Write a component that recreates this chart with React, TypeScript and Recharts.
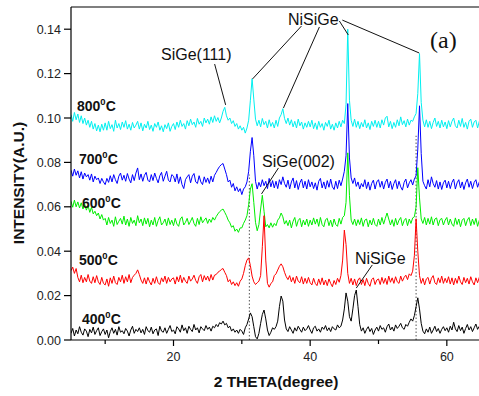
import { LineChart, Line, XAxis, YAxis, ReferenceLine } from "recharts";

// 2θ sampling grid (degrees)
const THETA_START = 5;
const THETA_STEP = 0.25;

// Intensities, in units of 1e-4 A.U., one per grid step (5° .. 65°)
const c800 = [
  1015, 985, 1025, 992, 1018, 980, 1010, 975, 1000, 968, 990, 958, 985, 950, 975, 942, 968, 938, 972, 945,
  978, 945, 985, 952, 970, 940, 990, 955, 975, 948, 982, 958, 988, 950, 972, 945, 980, 955, 968, 985,
  950, 978, 942, 972, 955, 985, 948, 968, 940, 975, 958, 982, 945, 965, 938, 970, 952, 978, 940, 962,
  975, 948, 982, 958, 990, 962, 975, 950, 988, 965, 995, 970, 982, 958, 998, 972, 985, 962, 1000, 978,
  995, 972, 1005, 980, 1010, 985, 1002, 978, 1000, 1030, 1048, 1010, 990, 1000, 975, 988, 962, 975, 950, 965,
  945, 958, 932, 955, 990, 1080, 1177, 1085, 995, 965, 990, 960, 998, 970, 985, 955, 992, 962, 980, 955,
  990, 962, 1000, 1015, 1042, 998, 975, 1000, 968, 992, 960, 985, 955, 995, 965, 982, 950, 978, 958, 985,
  960, 990, 952, 978, 948, 985, 958, 975, 945, 980, 962, 990, 950, 972, 945, 978, 955, 985, 960, 990,
  975, 1060, 1400, 1080, 990, 962, 995, 958, 985, 952, 980, 960, 992, 955, 978, 948, 985, 962, 990, 958,
  985, 955, 992, 968, 1000, 1008, 960, 985, 952, 980, 958, 992, 965, 1005, 970, 988, 960, 995, 968, 990,
  985, 1005, 1020, 1110, 1290, 1070, 990, 960, 992, 958, 985, 952, 980, 1000, 962, 985, 955, 990, 960, 982,
  952, 988, 960, 985, 1000, 965, 955, 990, 962, 998, 958, 980, 950, 985, 995, 958, 982, 990, 955, 985,
  970,
];

const c700 = [
  765, 738, 770, 742, 762, 730, 758, 725, 752, 735, 745, 720, 748, 712, 738, 722, 730, 705, 728, 712,
  700, 728, 710, 740, 712, 745, 722, 705, 738, 752, 720, 742, 715, 750, 725, 708, 745, 718, 752, 775,
  722, 748, 715, 742, 755, 720, 712, 745, 718, 752, 728, 708, 740, 755, 715, 738, 760, 720, 712, 745,
  738, 712, 748, 705, 735, 700, 682, 722, 735, 745, 708, 738, 750, 712, 705, 740, 712, 700, 735, 710,
  730, 705, 738, 712, 742, 755, 770, 782, 790, 795, 770, 745, 712, 720, 688, 705, 672, 690, 668, 682,
  655, 680, 690, 712, 760, 850, 912, 830, 715, 680, 710, 690, 722, 695, 715, 682, 728, 690, 718, 685,
  715, 682, 722, 700, 735, 705, 688, 720, 680, 712, 730, 685, 718, 678, 708, 725, 685, 715, 680, 722,
  690, 712, 682, 708, 675, 715, 728, 685, 712, 680, 718, 688, 725, 690, 678, 715, 682, 720, 695, 725,
  760, 830, 1065, 820, 730, 705, 730, 692, 712, 680, 705, 690, 722, 682, 712, 675, 705, 720, 680, 712,
  722, 688, 715, 680, 710, 725, 685, 715, 678, 705, 722, 682, 715, 690, 675, 710, 725, 685, 708, 722,
  698, 725, 740, 860, 1055, 840, 715, 695, 680, 722, 690, 735, 705, 688, 718, 680, 712, 678, 708, 720,
  685, 715, 682, 710, 725, 680, 708, 722, 685, 712, 678, 708, 725, 688, 715, 682, 710, 722, 688, 712,
  700,
];

const c600 = [
  625, 598, 630, 600, 622, 595, 618, 590, 612, 585, 605, 575, 598, 568, 580, 560, 572, 545, 565, 540,
  548, 518, 552, 525, 540, 512, 555, 520, 535, 548, 522, 558, 518, 545, 512, 552, 525, 540, 515, 560,
  528, 545, 515, 550, 522, 548, 510, 540, 518, 552, 512, 538, 555, 518, 528, 545, 515, 550, 520, 540,
  515, 548, 522, 512, 545, 555, 518, 530, 548, 520, 535, 552, 525, 512, 548, 520, 555, 528, 540, 550,
  525, 545, 530, 552, 540, 556, 568, 578, 585, 590, 575, 560, 540, 528, 508, 515, 490, 500, 485, 505,
  505, 525, 540, 560, 610, 680, 704, 620, 530, 492, 520, 590, 652, 580, 510, 520, 505, 528, 508, 525,
  515, 540, 550, 572, 555, 522, 538, 515, 540, 505, 535, 552, 512, 538, 548, 510, 540, 518, 545, 512,
  540, 518, 550, 522, 545, 512, 552, 520, 510, 542, 548, 515, 540, 510, 545, 520, 512, 548, 522, 552,
  560, 620, 843, 650, 540, 520, 545, 515, 542, 520, 550, 512, 540, 545, 510, 540, 518, 548, 520, 512,
  545, 518, 552, 522, 548, 572, 545, 518, 542, 512, 548, 518, 540, 552, 515, 538, 548, 515, 545, 525,
  550, 555, 600, 776, 640, 545, 525, 552, 518, 548, 522, 555, 518, 545, 550, 515, 542, 548, 518, 540,
  552, 518, 545, 522, 512, 550, 520, 545, 510, 540, 548, 515, 540, 552, 515, 545, 520, 548, 512, 540,
  530,
];

const c500 = [
  312, 328, 300, 322, 282, 262, 292, 258, 282, 262, 295, 265, 255, 285, 258, 290, 262, 250, 282, 255,
  248, 275, 242, 280, 255, 288, 258, 250, 282, 262, 292, 255, 285, 262, 295, 258, 282, 292, 300, 316,
  295, 270, 255, 280, 252, 282, 262, 248, 278, 255, 285, 258, 250, 280, 262, 288, 255, 282, 262, 275,
  280, 252, 285, 262, 292, 258, 282, 265, 255, 288, 265, 275, 292, 268, 255, 285, 295, 262, 290, 270,
  288, 265, 295, 270, 292, 295, 305, 310, 318, 322, 305, 290, 262, 272, 250, 262, 245, 258, 242, 265,
  275, 300, 335, 360, 370, 335, 288, 262, 250, 258, 265, 290, 420, 560, 360, 255, 238, 255, 262, 290,
  298, 315, 332, 343, 330, 305, 285, 272, 290, 262, 282, 255, 288, 265, 258, 285, 252, 278, 255, 282,
  258, 248, 278, 255, 245, 275, 250, 280, 248, 270, 245, 275, 255, 240, 268, 250, 278, 260, 290, 360,
  495, 430, 300, 255, 278, 248, 275, 245, 270, 280, 250, 272, 245, 278, 255, 242, 272, 280, 250, 270,
  275, 250, 282, 255, 278, 250, 288, 260, 280, 255, 285, 262, 255, 288, 265, 282, 292, 272, 298, 290,
  310, 380, 546, 400, 290, 255, 278, 248, 275, 282, 252, 278, 290, 258, 250, 280, 258, 288, 255, 278,
  258, 285, 252, 280, 248, 278, 255, 288, 262, 250, 282, 258, 278, 252, 285, 262, 248, 280, 258, 282,
  270,
];

const c400 = [
  30, 52, 18, 45, 28, 60, 35, 22, 50, 40, 15, 48, 32, 58, 25, 42, 55, 20, 38, 50,
  25, 45, 10, 38, 55, 30, 48, 22, 60, 35, 42, 28, 52, 40, 18, 45, 62, 30, 48, 38,
  55, 32, 48, 25, 60, 42, 35, 58, 28, 45, 50, 20, 62, 40, 35, 55, 30, 48, 65, 38,
  45, 28, 60, 50, 35, 68, 42, 55, 30, 62, 48, 38, 70, 45, 55, 32, 60, 50, 42, 65,
  48, 58, 40, 62, 55, 70, 60, 78, 72, 85, 68, 75, 55, 62, 40, 50, 35, 45, 30, 48,
  40, 25, 55, 70, 95, 122, 105, 60, 15, 5, 30, 75, 115, 135, 95, 45, 20, 35, 55, 48,
  60, 85, 150, 198, 175, 90, 50, 38, 60, 45, 30, 55, 40, 62, 48, 35, 58, 42, 50, 65,
  45, 30, 55, 62, 40, 50, 35, 58, 48, 65, 42, 55, 38, 60, 50, 45, 68, 55, 62, 90,
  140, 212, 175, 105, 85, 140, 200, 225, 150, 70, 40, 55, 30, 48, 60, 38, 52, 25, 45, 58,
  40, 65, 48, 55, 35, 60, 72, 45, 58, 40, 68, 52, 62, 75, 55, 48, 70, 62, 80, 95,
  85, 110, 150, 190, 140, 75, 40, 28, 50, 35, 58, 30, 45, 62, 38, 52, 30, 48, 60, 42,
  55, 35, 62, 45, 80, 50, 38, 65, 42, 58, 30, 52, 70, 45, 60, 38, 55, 72, 48, 62,
  50,
];

const series = [
  { key: "t800", values: c800, color: "#00f0f0" },
  { key: "t700", values: c700, color: "#0000ff" },
  { key: "t600", values: c600, color: "#00ee00" },
  { key: "t500", values: c500, color: "#ff0000" },
  { key: "t400", values: c400, color: "#000000" },
];

const xTicks = [10, 20, 30, 40, 50, 60];
const yTicks = [0, 0.01, 0.02, 0.03, 0.04, 0.05, 0.06, 0.07, 0.08, 0.09, 0.1, 0.11, 0.12, 0.13, 0.14];

// annotation leader lines, in data coordinates
const leaders = [
  [26.02, 0.1243, 27.63, 0.1059],
  [38.72, 0.1414, 31.57, 0.1176],
  [41.35, 0.141, 36.09, 0.1045],
  [44.27, 0.1437, 45.58, 0.1374],
  [44.71, 0.1441, 55.95, 0.1293],
  [35.36, 0.0775, 32.88, 0.0658],
  [49.09, 0.0338, 46.75, 0.0234],
];
// dotted guides: [2θ, top]
const guides = [
  [31.1, 0.0745],
  [55.5, 0.092],
];

const tempLabels = [
  { t: "800", x: 77, y: 110.5 },
  { t: "700", x: 79, y: 164 },
  { t: "600", x: 82, y: 208 },
  { t: "500", x: 79, y: 265 },
  { t: "400", x: 82, y: 324 },
];

const data = c800.map((_, i) => {
  const row: Record<string, number> = { theta: THETA_START + i * THETA_STEP };
  for (const s of series) row[s.key] = s.values[i] / 10000;
  return row;
});

const SANS = "'Liberation Sans', Arial, sans-serif";

const YTick = (props: any) => {
  const { x, y, payload } = props;
  const major = Math.round(payload.value * 100) % 2 === 0;
  return (
    <g>
      <line x1={x - (major ? 7 : 4)} x2={x} y1={y} y2={y} stroke="#000" strokeWidth={1.2} />
      {major && (
        <text x={x - 10} y={y + 4.5} textAnchor="end" fontSize={12.5} fontFamily={SANS} fill="#222">
          {payload.value.toFixed(2)}
        </text>
      )}
    </g>
  );
};

const XTick = (props: any) => {
  const { x, y, payload } = props;
  const major = payload.value % 20 === 0;
  return (
    <g>
      <line x1={x} x2={x} y1={y} y2={y + (major ? 6 : 4)} stroke="#000" strokeWidth={1.2} />
      {major && (
        <text x={x} y={y + 21} textAnchor="middle" fontSize={12.5} fontFamily={SANS} fill="#222">
          {payload.value}
        </text>
      )}
    </g>
  );
};

export default function App() {
  return (
    <div style={{ position: "absolute", left: 0, top: 0, width: 479, height: 396, overflow: "hidden", background: "#fff" }}>
      <LineChart width={482} height={396} data={data} margin={{ top: 7, right: 1, bottom: 0, left: 0 }}>
        <XAxis
          type="number"
          dataKey="theta"
          domain={[5, 65]}
          ticks={xTicks}
          tick={XTick}
          tickSize={0}
          tickMargin={0}
          height={56}
          stroke="#000"
          strokeWidth={1.2}
          allowDataOverflow
        />
        <YAxis
          type="number"
          domain={[0, 0.15]}
          ticks={yTicks}
          tick={YTick}
          tickSize={0}
          tickMargin={0}
          width={71}
          stroke="#000"
          strokeWidth={1.2}
          allowDataOverflow
        />
        <ReferenceLine y={0.15} stroke="#000" strokeWidth={1.2} />
        {guides.map(([gx, top]) => (
          <ReferenceLine
            key={gx}
            segment={[{ x: gx, y: 0 }, { x: gx, y: top }]}
            stroke="#555"
            strokeDasharray="1.5 2"
          />
        ))}
        {series.map((s) => (
          <Line
            key={s.key}
            type="linear"
            dataKey={s.key}
            stroke={s.color}
            strokeWidth={1}
            dot={false}
            isAnimationActive={false}
          />
        ))}
        {leaders.map(([x1, y1, x2, y2], i) => (
          <ReferenceLine
            key={i}
            segment={[{ x: x1, y: y1 }, { x: x2, y: y2 }]}
            stroke="#111"
            strokeWidth={1}
          />
        ))}
      </LineChart>
      <svg width={479} height={396} style={{ position: "absolute", left: 0, top: 0, pointerEvents: "none" }}>
        {tempLabels.map((l) => (
          <text key={l.t} x={l.x} y={l.y} fontFamily={SANS} fontWeight="bold" fontSize={14} fill="#111">
            {l.t}
            <tspan fontSize={9.5} dy={-6}>0</tspan>
            <tspan dy={6}>C</tspan>
          </text>
        ))}
        <g fontFamily={SANS} fontSize={16} fill="#111">
          <text x={161} y={60}>SiGe(111)</text>
          <text x={288} y={25}>NiSiGe</text>
          <text x={262} y={167}>SiGe(002)</text>
          <text x={355} y={264}>NiSiGe</text>
        </g>
        <text x={430} y={48} fontFamily="'Liberation Serif', 'Times New Roman', serif" fontSize={24} fill="#111">
          (a)
        </text>
        <text x={276} y={387} textAnchor="middle" fontFamily={SANS} fontWeight="bold" fontSize={15.5} fill="#111">
          2 THETA(degree)
        </text>
        <text
          transform="translate(24,183) rotate(-90)"
          textAnchor="middle"
          fontFamily={SANS}
          fontWeight="bold"
          fontSize={15.5}
          fill="#111"
        >
          INTENSITY(A.U.)
        </text>
      </svg>
    </div>
  );
}
